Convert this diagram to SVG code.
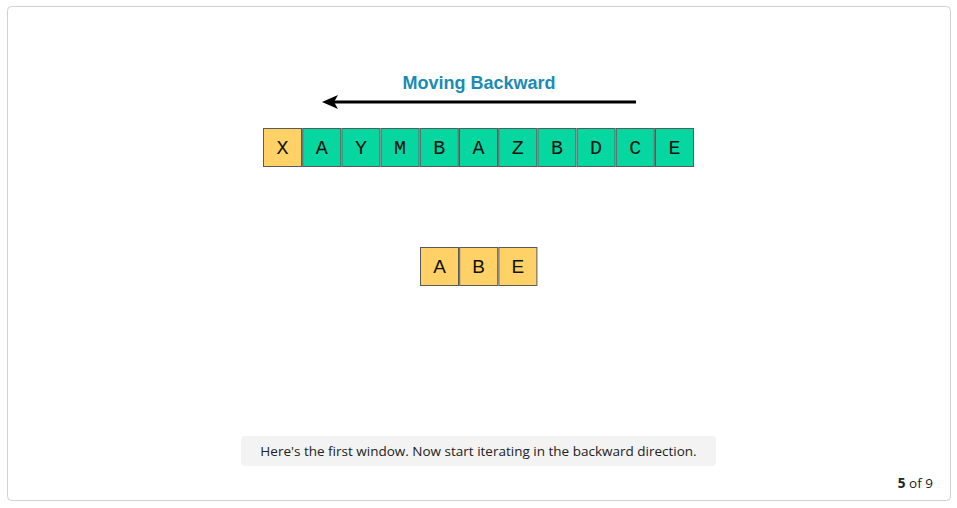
<svg xmlns="http://www.w3.org/2000/svg" width="957" height="508" viewBox="0 0 957 508">
<style>
.frame{fill:#fff;stroke:#d0d0d0;stroke-width:1}
.g{fill:#06d6a0;stroke:#5a5a5a;stroke-width:1}
.y{fill:#ffd166;stroke:#5a5a5a;stroke-width:1}
.ct{font-family:"Liberation Mono","DejaVu Sans Mono",monospace;font-size:20px;fill:#111;text-anchor:middle}
.bt{font-family:"Liberation Sans",Arial,sans-serif;font-size:19px;fill:#111;text-anchor:middle}
.title{font-family:"Liberation Sans",Arial,sans-serif;font-weight:bold;font-size:18px;fill:#1a8bb5;text-anchor:middle}
.cap{font-family:"Open Sans","Noto Sans",sans-serif;font-size:13.5px;fill:#222;text-anchor:middle}
</style>
<defs>
<marker id="ah" markerWidth="16" markerHeight="14" refX="8" refY="7" orient="auto" markerUnits="userSpaceOnUse" viewBox="0 0 16 14">
<path d="M0,0 L16,7 L0,14 L4,7 Z" fill="#000"/>
</marker>
</defs>
<rect class="frame" x="7.5" y="6.5" width="943" height="494" rx="4"/>
<text class="title" x="479" y="89">Moving Backward</text>
<g id="connectors">
<line x1="636" y1="102" x2="330" y2="102" stroke="#000" stroke-width="3" marker-end="url(#ah)"/>
</g>
<g id="top-row">
<g id="t0"><rect class="y" x="263.5" y="128.5" width="38" height="38"/><text class="ct" x="282.5" y="154">X</text></g>
<g id="t1"><rect class="g" x="302.7" y="128.5" width="38" height="38"/><text class="ct" x="321.7" y="154">A</text></g>
<g id="t2"><rect class="g" x="341.9" y="128.5" width="38" height="38"/><text class="ct" x="360.9" y="154">Y</text></g>
<g id="t3"><rect class="g" x="381.1" y="128.5" width="38" height="38"/><text class="ct" x="400.1" y="154">M</text></g>
<g id="t4"><rect class="g" x="420.3" y="128.5" width="38" height="38"/><text class="ct" x="439.3" y="154">B</text></g>
<g id="t5"><rect class="g" x="459.5" y="128.5" width="38" height="38"/><text class="ct" x="478.5" y="154">A</text></g>
<g id="t6"><rect class="g" x="498.7" y="128.5" width="38" height="38"/><text class="ct" x="517.7" y="154">Z</text></g>
<g id="t7"><rect class="g" x="537.9" y="128.5" width="38" height="38"/><text class="ct" x="556.9" y="154">B</text></g>
<g id="t8"><rect class="g" x="577.1" y="128.5" width="38" height="38"/><text class="ct" x="596.1" y="154">D</text></g>
<g id="t9"><rect class="g" x="616.3" y="128.5" width="38" height="38"/><text class="ct" x="635.3" y="154">C</text></g>
<g id="t10"><rect class="g" x="655.5" y="128.5" width="38" height="38"/><text class="ct" x="674.5" y="154">E</text></g>
</g>
<g id="bottom-row">
<g id="b0"><rect class="y" x="420.5" y="247.5" width="38" height="38"/><text class="bt" x="439.5" y="273">A</text></g>
<g id="b1"><rect class="y" x="459.7" y="247.5" width="38" height="38"/><text class="bt" x="478.7" y="273">B</text></g>
<g id="b2"><rect class="y" x="498.9" y="247.5" width="38" height="38"/><text class="bt" x="517.9" y="273">E</text></g>
</g>
<g id="caption">
<rect x="241" y="436" width="475" height="30" rx="4" fill="#f3f3f3"/>
<text class="cap" x="478.5" y="456">Here's the first window. Now start iterating in the backward direction.</text>
</g>
<text x="933" y="488" font-family="'Open Sans','Noto Sans',sans-serif" font-size="13.5" fill="#222" text-anchor="end"><tspan font-weight="bold">5</tspan> of 9</text>
</svg>
